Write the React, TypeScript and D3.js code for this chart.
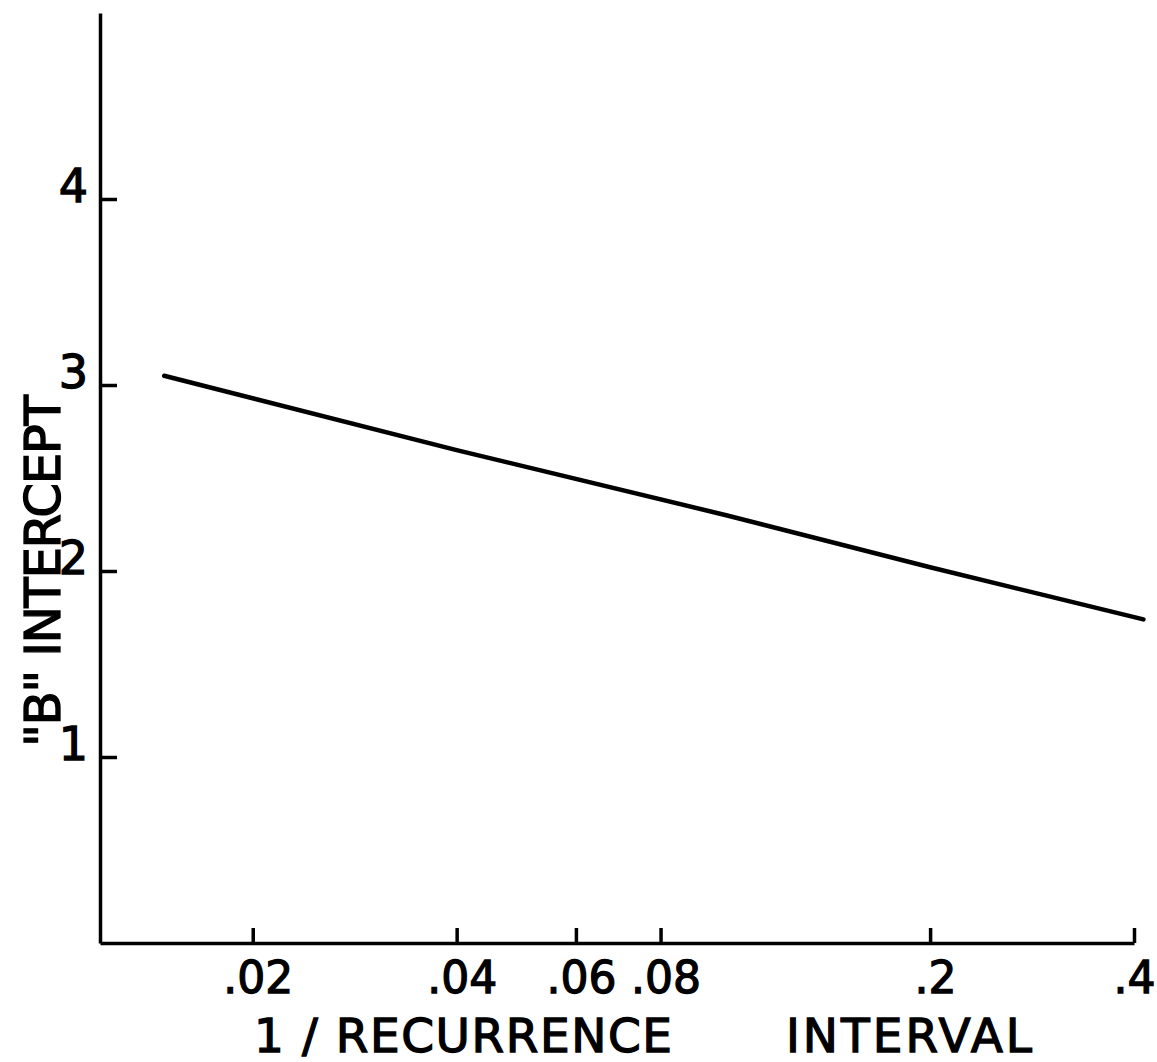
import React, { useEffect, useRef } from "react";
import * as d3 from "d3";

// 1 / recurrence interval vs "B" intercept
const recurrence = [0.0148, 0.04, 0.1, 0.2, 0.413];
const intercept = [3.05, 2.65, 2.3, 2.02, 1.74];

const xTickValues = [0.02, 0.04, 0.06, 0.08, 0.2, 0.4];
const xTickLabels = [".02", ".04", ".06", ".08", ".2", ".4"];
const yTickValues = [1, 2, 3, 4];
const yTickLabels = ["1", "2", "3", "4"];

const W = 1157, H = 1062;
const FONT = "'DejaVu Sans', sans-serif";

const App = () => {
  const svgRef = useRef<SVGSVGElement>(null);

  useEffect(() => {
    const svg = d3.select(svgRef.current);
    svg.selectAll("*").remove();

    const x = d3.scaleLog().domain([0.0119, 0.4]).range([100, 1134]);
    const y = d3.scaleLinear().domain([0, 5]).range([943, 13]);

    // x axis, ticks point up into the plot
    const gx = svg
      .append("g")
      .attr("transform", `translate(0,${y(0)})`)
      .call(
        d3.axisBottom(x)
          .tickValues(xTickValues)
          .tickFormat((d, i) => xTickLabels[i])
          .tickSizeInner(-15)
          .tickSizeOuter(0)
      );
    gx.selectAll("text")
      .attr("y", 50)
      .attr("dy", 0)
      .attr("dx", (d, i) => (i < xTickValues.length - 1 ? 5 : 0))
      .style("font-family", FONT)
      .style("font-size", "44px");

    // y axis, ticks point right
    const gy = svg
      .append("g")
      .attr("transform", `translate(${x(0.0119)},0)`)
      .call(
        d3.axisLeft(y)
          .tickValues(yTickValues)
          .tickFormat((d, i) => yTickLabels[i])
          .tickSizeInner(-17)
          .tickSizeOuter(0)
          .tickPadding(12)
      );
    gy.selectAll("text")
      .attr("dy", 2)
      .style("font-family", FONT)
      .style("font-size", "46px");

    svg.selectAll(".domain, .tick line")
      .attr("stroke", "#000")
      .attr("stroke-width", 3.5);

    // the curve
    const line = d3.line<number>()
      .x((d, i) => x(recurrence[i]))
      .y(d => y(d));
    svg.append("path")
      .datum(intercept)
      .attr("d", line)
      .attr("fill", "none")
      .attr("stroke", "#000")
      .attr("stroke-width", 4.5)
      .attr("stroke-linecap", "round");

    // axis titles
    svg.append("text")
      .attr("x", 254)
      .attr("y", 1052)
      .attr("textLength", 418)
      .attr("lengthAdjust", "spacing")
      .style("font-family", FONT)
      .style("font-size", "47px")
      .text("1 / RECURRENCE");
    svg.append("text")
      .attr("x", 786)
      .attr("y", 1052)
      .attr("textLength", 246)
      .attr("lengthAdjust", "spacing")
      .style("font-family", FONT)
      .style("font-size", "47px")
      .text("INTERVAL");

    svg.append("text")
      .attr("transform", "translate(60,747) rotate(-90)")
      .attr("textLength", 352)
      .attr("lengthAdjust", "spacing")
      .style("font-family", FONT)
      .style("font-size", "50px")
      .text('"B" INTERCEPT');

    // heavier lettering like the hand-lettered original
    svg.selectAll("text")
      .attr("fill", "#000")
      .attr("stroke", "#000")
      .attr("stroke-width", 1.3);
  }, []);

  return (
    <svg
      ref={svgRef}
      width={W}
      height={H}
      style={{ position: "absolute", left: 0, top: 0, background: "#fff" }}
    ></svg>
  );
};

export default App;
